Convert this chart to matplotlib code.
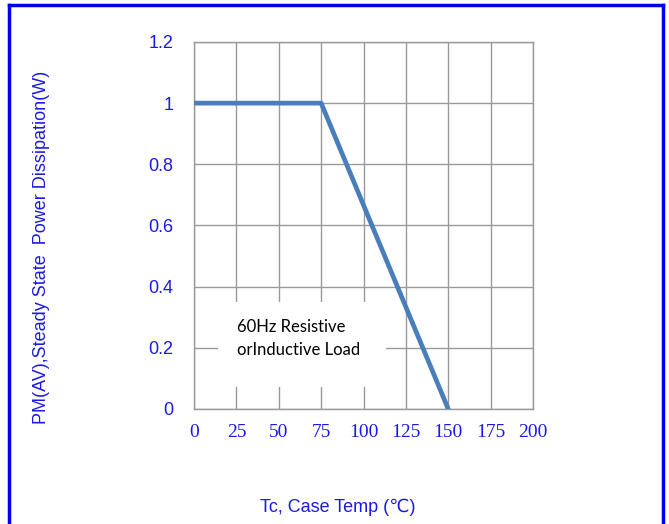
import matplotlib
matplotlib.use("Agg")
from matplotlib import pyplot as plt
from matplotlib.patches import Rectangle

# derating curve
temp = [0, 75, 150]
power = [1.0, 1.0, 0.0]
x_ticks = [0, 25, 50, 75, 100, 125, 150, 175, 200]
y_ticks = [0, 0.2, 0.4, 0.6, 0.8, 1.0, 1.2]
y_tick_labels = ["0", "0.2", "0.4", "0.6", "0.8", "1", "1.2"]

blue = "#1a1ae6"

fig = plt.figure(figsize=(6.69, 5.24), dpi=100)
ax = fig.add_axes([0.29, 0.2195, 0.5067, 0.7004])

ax.plot(temp, power, color="#4a7ebb", lw=3.4, solid_capstyle="round", zorder=5)

ax.set_xlim(0, 200)
ax.set_ylim(0, 1.2)
ax.set_xticks(x_ticks)
ax.set_yticks(y_ticks)
ax.set_yticklabels(y_tick_labels)
ax.grid(True, color="#999999", lw=1)
ax.set_axisbelow(True)
for s in ax.spines.values():
    s.set_color("#999999")
    s.set_linewidth(1)
ax.tick_params(length=0)
ax.tick_params(axis="y", pad=15, labelsize=13, labelcolor=blue)
ax.tick_params(axis="x", pad=11, labelsize=14, labelcolor=blue)
for t in ax.get_yticklabels():
    t.set_family("Liberation Sans")
for t in ax.get_xticklabels():
    t.set_family("Liberation Serif")

# white box for the note
ax.add_patch(Rectangle((14, 0.072), 99, 0.278, facecolor="white",
                       edgecolor="none", zorder=3))
ax.text(25.5, 0.295, "60Hz Resistive\norInductive Load", fontsize=12,
        family="Lato", color="black", va="top", ha="left",
        linespacing=1.55, zorder=4)

fig.text(42 / 669, 1 - 247 / 524, "PM(AV),Steady State  Power Dissipation(W)",
         rotation=90, ha="center", va="center", fontsize=13,
         family="Liberation Sans", color=blue)
fig.text(338 / 669, 1 - 507 / 524, "Tc, Case Temp (\u2103)", ha="center",
         va="center", fontsize=13, family=["Liberation Sans", "DejaVu Sans"],
         color=blue)

# blue frame around figure
frame_kw = dict(color="#0000ee", lw=2.5, transform=fig.transFigure,
                clip_on=False)
fig.add_artist(plt.Line2D([9 / 669, 9 / 669], [0, 1 - 5 / 524], **frame_kw))
fig.add_artist(plt.Line2D([663 / 669, 663 / 669], [0, 1 - 5 / 524], **frame_kw))
fig.add_artist(plt.Line2D([9 / 669, 663 / 669], [1 - 5 / 524, 1 - 5 / 524], **frame_kw))

fig.savefig("out.png", dpi=100)
